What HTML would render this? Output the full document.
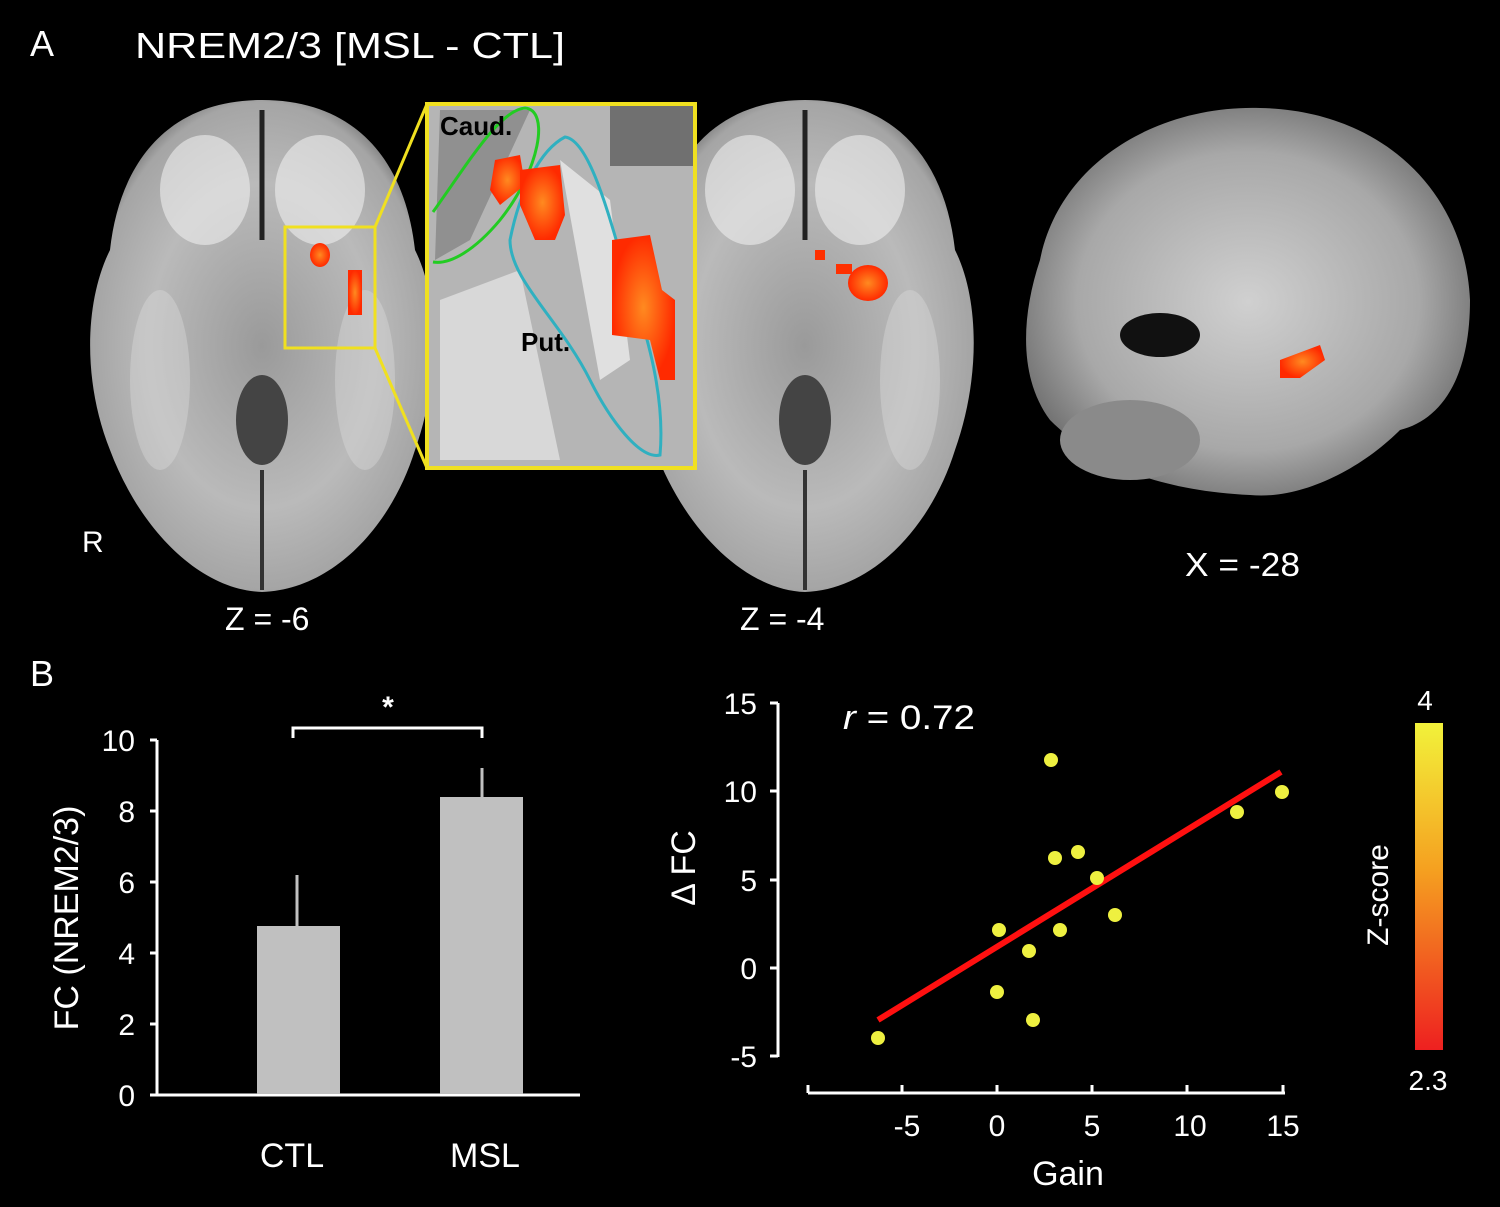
<!DOCTYPE html>
<html><head><meta charset="utf-8"><style>
html,body{margin:0;padding:0;background:#000;}
svg{display:block;}
text{font-family:"Liberation Sans",Arial,sans-serif;fill:#fff;}
</style></head><body>
<svg width="1500" height="1207" viewBox="0 0 1500 1207" xmlns="http://www.w3.org/2000/svg">
<defs>
<radialGradient id="br" cx="50%" cy="50%" r="55%">
<stop offset="0" stop-color="#9a9a9a"/><stop offset="0.6" stop-color="#bababa"/><stop offset="0.9" stop-color="#a5a5a5"/><stop offset="1" stop-color="#6a6a6a"/>
</radialGradient>
<radialGradient id="sg" cx="50%" cy="50%" r="55%">
<stop offset="0" stop-color="#d0d0d0"/><stop offset="0.7" stop-color="#a8a8a8"/><stop offset="1" stop-color="#707070"/>
</radialGradient>
<linearGradient id="cb" x1="0" y1="0" x2="0" y2="1">
<stop offset="0" stop-color="#f2f23a"/><stop offset="0.45" stop-color="#f5a020"/><stop offset="1" stop-color="#ee2020"/>
</linearGradient>
<radialGradient id="blob" cx="50%" cy="50%" r="50%">
<stop offset="0" stop-color="#ff8a20"/><stop offset="1" stop-color="#ff2a00"/>
</radialGradient>
</defs>
<rect width="1500" height="1207" fill="#000"/>
<text x="30" y="56" font-size="36">A</text>
<text x="135" y="58" font-size="36" textLength="430" lengthAdjust="spacingAndGlyphs">NREM2/3 [MSL - CTL]</text>

<!-- Brain 1 -->
<path d="M262 100 C170 100 120 160 110 250 C85 300 82 380 110 450 C140 530 200 590 262 592 C330 590 390 530 415 450 C440 380 440 300 415 250 C405 160 355 100 262 100Z" fill="url(#br)"/>
<path d="M262 110 L262 240" stroke="#222" stroke-width="5"/>
<ellipse cx="205" cy="190" rx="45" ry="55" fill="#eee" opacity="0.6"/>
<ellipse cx="320" cy="190" rx="45" ry="55" fill="#eee" opacity="0.6"/>
<ellipse cx="160" cy="380" rx="30" ry="90" fill="#ddd" opacity="0.4"/>
<ellipse cx="365" cy="380" rx="30" ry="90" fill="#ddd" opacity="0.4"/>
<ellipse cx="262" cy="420" rx="26" ry="45" fill="#444"/>
<path d="M262 470 L262 590" stroke="#333" stroke-width="4"/>
<ellipse cx="320" cy="255" rx="10" ry="12" fill="url(#blob)"/>
<rect x="348" y="270" width="14" height="45" fill="url(#blob)"/>
<!-- Brain 2 -->
<path d="M805 100 C715 100 665 160 655 250 C630 300 628 380 655 450 C685 530 745 590 805 592 C870 590 930 530 955 450 C980 380 980 300 955 250 C945 160 895 100 805 100Z" fill="url(#br)"/>
<path d="M805 110 L805 240" stroke="#222" stroke-width="5"/>
<ellipse cx="750" cy="190" rx="45" ry="55" fill="#eee" opacity="0.6"/>
<ellipse cx="860" cy="190" rx="45" ry="55" fill="#eee" opacity="0.6"/>
<ellipse cx="910" cy="380" rx="30" ry="90" fill="#ddd" opacity="0.4"/>
<ellipse cx="805" cy="420" rx="26" ry="45" fill="#444"/>
<path d="M805 470 L805 590" stroke="#333" stroke-width="4"/>
<rect x="815" y="250" width="10" height="10" fill="#ff3000"/>
<ellipse cx="868" cy="283" rx="20" ry="18" fill="url(#blob)"/>
<rect x="836" y="264" width="16" height="10" fill="#ff3000"/>
<!-- Sagittal -->
<path d="M1040 260 C1060 160 1160 105 1260 108 C1380 110 1465 190 1470 300 C1470 380 1440 420 1400 430 C1360 470 1300 500 1250 495 C1150 490 1090 460 1050 420 C1020 380 1020 320 1040 260Z" fill="url(#sg)"/>
<ellipse cx="1160" cy="335" rx="40" ry="22" fill="#111"/>
<ellipse cx="1130" cy="440" rx="70" ry="40" fill="#8a8a8a"/>
<path d="M1280 360 L1320 345 L1325 360 L1300 378 L1280 378Z" fill="url(#blob)"/>
<!-- Inset -->
<rect x="285" y="227" width="90" height="121" fill="none" stroke="#f0e020" stroke-width="3"/>
<line x1="375" y1="227" x2="427" y2="104" stroke="#f0e020" stroke-width="3"/>
<line x1="375" y1="348" x2="427" y2="468" stroke="#f0e020" stroke-width="3"/>
<rect x="427" y="104" width="268" height="364" fill="#b5b5b5" stroke="#f0e020" stroke-width="4"/>
<rect x="610" y="106" width="83" height="60" fill="#707070"/>
<path d="M440 110 L530 110 L470 240 L435 260Z" fill="#909090"/>
<path d="M440 300 L520 270 L560 460 L440 460Z" fill="#d8d8d8"/>
<path d="M560 160 L610 200 L630 360 L600 380Z" fill="#e0e0e0"/>
<path d="M433 212 C470 160 500 110 525 108 C550 110 540 170 500 220 C475 250 450 265 433 262" fill="none" stroke="#22cc22" stroke-width="3"/>
<path d="M510 240 C520 190 540 150 565 137 C590 140 610 220 625 270 C650 340 665 400 660 455 C640 460 610 420 590 380 C560 320 510 280 510 240Z" fill="none" stroke="#30b0c0" stroke-width="3"/>
<path d="M495 160 L520 155 L525 185 L500 205 L490 190Z" fill="url(#blob)"/>
<path d="M520 170 L560 165 L565 215 L555 240 L535 240 L520 205Z" fill="url(#blob)"/>
<path d="M612 240 L650 235 L662 290 L675 300 L675 380 L660 380 L650 340 L612 335Z" fill="url(#blob)"/>
<text x="440" y="135" font-size="26" font-weight="bold" style="fill:#000">Caud.</text>
<text x="521" y="351" font-size="26" font-weight="bold" style="fill:#000">Put.</text>

<text x="82" y="552" font-size="30">R</text>
<text x="225" y="630" font-size="32">Z = -6</text>
<text x="740" y="630" font-size="32">Z = -4</text>
<text x="1185" y="576" font-size="33" textLength="115" lengthAdjust="spacingAndGlyphs">X = -28</text>

<text x="30" y="686" font-size="36">B</text>
<!-- Bar chart -->
<g stroke="#fff" stroke-width="3" fill="none">
<line x1="157" y1="740" x2="157" y2="1096"/>
<line x1="157" y1="1095" x2="580" y2="1095"/>
<line x1="150" y1="740" x2="157" y2="740"/><line x1="150" y1="811" x2="157" y2="811"/><line x1="150" y1="882" x2="157" y2="882"/><line x1="150" y1="953" x2="157" y2="953"/><line x1="150" y1="1024" x2="157" y2="1024"/><line x1="150" y1="1095" x2="157" y2="1095"/>
<path d="M293 738 L293 728 L482 728 L482 738"/>
</g>
<rect x="257" y="926" width="83" height="168" fill="#c0c0c0"/>
<rect x="440" y="797" width="83" height="297" fill="#c0c0c0"/>
<line x1="297" y1="875" x2="297" y2="926" stroke="#c0c0c0" stroke-width="3"/>
<line x1="482" y1="768" x2="482" y2="797" stroke="#c0c0c0" stroke-width="3"/>
<text x="388" y="717" font-size="30" font-weight="bold" text-anchor="middle">*</text>
<g font-size="30" text-anchor="end">
<text x="135" y="751">10</text><text x="135" y="822">8</text><text x="135" y="893">6</text><text x="135" y="964">4</text><text x="135" y="1035">2</text><text x="135" y="1106">0</text>
</g>
<text transform="translate(78,918) rotate(-90)" font-size="34" text-anchor="middle">FC (NREM2/3)</text>
<text x="292" y="1167" font-size="34" text-anchor="middle">CTL</text>
<text x="485" y="1167" font-size="34" text-anchor="middle">MSL</text>

<!-- Scatter -->
<g stroke="#fff" stroke-width="3" fill="none">
<line x1="778" y1="703" x2="778" y2="1057"/>
<line x1="770" y1="703" x2="778" y2="703"/><line x1="770" y1="791" x2="778" y2="791"/><line x1="770" y1="880" x2="778" y2="880"/><line x1="770" y1="968" x2="778" y2="968"/><line x1="770" y1="1056" x2="778" y2="1056"/>
<line x1="808" y1="1093" x2="1285" y2="1093"/>
<line x1="808" y1="1085" x2="808" y2="1093"/><line x1="902" y1="1085" x2="902" y2="1093"/><line x1="997" y1="1085" x2="997" y2="1093"/><line x1="1092" y1="1085" x2="1092" y2="1093"/><line x1="1187" y1="1085" x2="1187" y2="1093"/><line x1="1283" y1="1085" x2="1283" y2="1093"/>
</g>
<g font-size="30" text-anchor="end">
<text x="757" y="714">15</text><text x="757" y="802">10</text><text x="757" y="891">5</text><text x="757" y="979">0</text><text x="757" y="1067">-5</text>
</g>
<g font-size="30" text-anchor="middle">
<text x="907" y="1136">-5</text><text x="997" y="1136">0</text><text x="1092" y="1136">5</text><text x="1190" y="1136">10</text><text x="1283" y="1136">15</text>
</g>
<text transform="translate(695,868) rotate(-90)" font-size="34" text-anchor="middle">Δ FC</text>
<text x="1068" y="1185" font-size="34" text-anchor="middle">Gain</text>
<text x="843" y="729" font-size="34" textLength="132" lengthAdjust="spacingAndGlyphs"><tspan font-style="italic">r</tspan> = 0.72</text>
<line x1="878" y1="1020" x2="1281" y2="772" stroke="#ff1010" stroke-width="6"/>
<g fill="#eef040">
<circle cx="878" cy="1038" r="7"/><circle cx="1051" cy="760" r="7"/><circle cx="1055" cy="858" r="7"/><circle cx="1078" cy="852" r="7"/><circle cx="1097" cy="878" r="7"/><circle cx="1115" cy="915" r="7"/><circle cx="999" cy="930" r="7"/><circle cx="1060" cy="930" r="7"/><circle cx="1029" cy="951" r="7"/><circle cx="997" cy="992" r="7"/><circle cx="1033" cy="1020" r="7"/><circle cx="1237" cy="812" r="7"/><circle cx="1282" cy="792" r="7"/>
</g>
<!-- colorbar -->
<rect x="1415" y="723" width="28" height="327" fill="url(#cb)"/>
<text x="1425" y="710" font-size="28" text-anchor="middle">4</text>
<text x="1428" y="1090" font-size="28" text-anchor="middle">2.3</text>
<text transform="translate(1388,895) rotate(-90)" font-size="30" text-anchor="middle">Z-score</text>
</svg>
</body></html>
